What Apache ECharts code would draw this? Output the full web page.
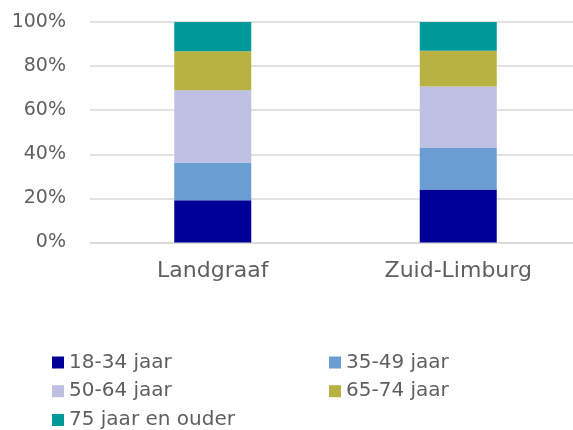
<!DOCTYPE html>
<html>
<head>
<meta charset="utf-8">
<script src="https://cdn.jsdelivr.net/npm/echarts@6/dist/echarts.min.js"></script>
<style>
  html, body { margin: 0; padding: 0; background: #fff; }
  #chart { width: 573px; height: 430px; }
</style>
</head>
<body>
<div id="chart"></div>
<script>
var categories = ['Landgraaf', 'Zuid-Limburg'];
var seriesNames = ['18-34 jaar', '35-49 jaar', '50-64 jaar', '65-74 jaar', '75 jaar en ouder'];
var age_18_34 = [19.2, 24.0];
var age_35_49 = [17.1, 19.1];
var age_50_64 = [32.7, 27.6];
var age_65_74 = [17.7, 16.3];
var age_75_plus = [13.3, 13.0];
var yTicks = [0, 20, 40, 60, 80, 100];

var colors = ['#000099', '#6a9ed2', '#bfbfe3', '#b8b242', '#009999'];
var values = [age_18_34, age_35_49, age_50_64, age_65_74, age_75_plus];
var font = 'DejaVu Sans';
var textColor = '#5f5f5f';

// legend slots: [left, top] per series
var legendSlots = [[52, 352.5], [329, 352.5], [52, 381.2], [329, 381.2], [52, 410]];

var chart = echarts.init(document.getElementById('chart'));

var series = [];
var legends = [];
for (var i = 0; i < seriesNames.length; i++) {
    series.push({
        name: seriesNames[i],
        type: 'bar',
        stack: 'total',
        barWidth: 77,
        itemStyle: { color: colors[i] },
        data: values[i]
    });
    legends.push({
        data: [seriesNames[i]],
        left: legendSlots[i][0],
        top: legendSlots[i][1],
        padding: 0,
        icon: 'rect', itemWidth: 12, itemHeight: 12,
        textStyle: { fontFamily: font, fontSize: 20, color: textColor }
    });
}

chart.setOption({
    animation: false,
    grid: {
        left: 90, width: 491, top: 22, bottom: 187.5,
        containLabel: false, outerBoundsMode: 'none'
    },
    xAxis: {
        type: 'category',
        data: categories,
        axisLine: { show: true, lineStyle: { color: '#d9d9d9', width: 1.5 } },
        axisTick: { show: false },
        axisLabel: { margin: 18, fontFamily: font, fontSize: 22, color: textColor }
    },
    yAxis: {
        type: 'value',
        min: yTicks[0],
        max: yTicks[yTicks.length - 1],
        interval: 20,
        axisLine: { show: false },
        axisTick: { show: false },
        splitLine: { lineStyle: { color: '#d9d9d9', width: 1.5 } },
        axisLabel: {
            margin: 24,
            fontFamily: font, fontSize: 19, color: textColor,
            formatter: '{value}%'
        }
    },
    legend: legends,
    series: series
});
</script>
</body>
</html>
